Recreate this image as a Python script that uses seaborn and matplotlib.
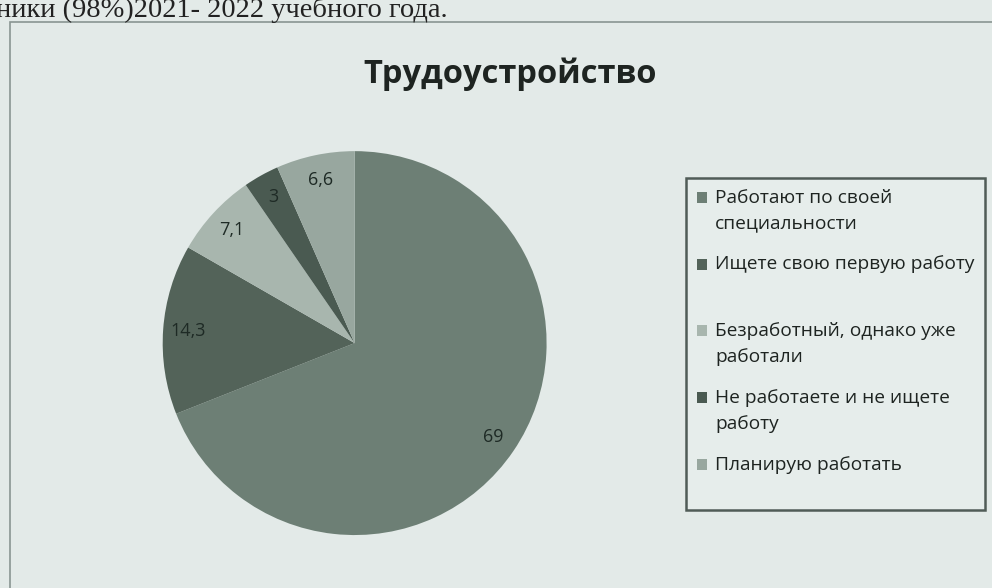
import matplotlib
matplotlib.use("Agg")
import matplotlib.pyplot as plt
import seaborn as sns
from matplotlib.patches import Rectangle
from matplotlib.legend_handler import HandlerPatch

# data
categories = [
    "Работают по своей\nспециальности",
    "Ищете свою первую работу\n",
    "Безработный, однако уже\nработали",
    "Не работаете и не ищете\nработу",
    "Планирую работать\n",
]
values = [69, 14.3, 7.1, 3, 6.6]
colors = ["#6d7f75", "#536359", "#a8b6ae", "#4a5a51", "#98a79f"]

title = "Трудоустройство"
caption = "ники (98%)2021- 2022 учебного года."

bg = "#e3eae8"

sns.set_theme(style="white")
plt.rcParams["font.family"] = ["Open Sans", "DejaVu Sans"]

fig = plt.figure(figsize=(9.92, 5.88), dpi=100, facecolor=bg)

# frame of the slide chart area
fig.patches.append(Rectangle((0.010, -0.01), 1.0, 0.973, transform=fig.transFigure,
                             fill=False, edgecolor="#8a9592", linewidth=1.2))

# cut-off sentence at the very top
fig.text(-0.004, 0.971, caption, family="Liberation Serif", fontsize=20.5,
         color="#222", ha="left", va="baseline")

fig.text(0.514, 0.874, title, fontsize=23.5, fontweight="bold", color="#1e2421",
         ha="center", va="center")

ax = fig.add_axes([0.164, 0.090, 0.387, 0.653])
ax.set_facecolor(bg)


def fmt(p):
    s = f"{p:.1f}".replace(".", ",")
    return s[:-2] if s.endswith(",0") else s


wedges, texts, autotexts = ax.pie(
    values, colors=colors, startangle=90, counterclock=False,
    autopct=fmt, pctdistance=0.87,
    wedgeprops=dict(linewidth=0.5, edgecolor="none"),
    textprops=dict(fontsize=13, color="#1e2a25"),
)
ax.set_xlim(-1, 1)
ax.set_ylim(-1, 1)
ax.set_aspect("equal")


# legend square sits on the first line of each label, like in Excel
def first_line_square(legend, orig_handle, xdescent, ydescent, width, height, fontsize):
    return Rectangle((-xdescent, -ydescent + 9.6), width, height)


leg = fig.legend(
    wedges, categories, loc="upper left", bbox_to_anchor=(0.692, 0.697),
    fontsize=13.8, frameon=True, handlelength=0.5, handleheight=0.5,
    handletextpad=0.45, labelspacing=1.2, borderpad=0.55, borderaxespad=0,
    fancybox=False,
    handler_map={matplotlib.patches.Wedge: HandlerPatch(patch_func=first_line_square)},
)
leg.get_frame().set_edgecolor("#2b3833")
leg.get_frame().set_linewidth(1.8)
leg.get_frame().set_facecolor("#e7eeec")
for t in leg.get_texts():
    t.set_color("#1e2421")
    t.set_linespacing(1.55)

fig.savefig("out.png", dpi=100, facecolor=bg)
